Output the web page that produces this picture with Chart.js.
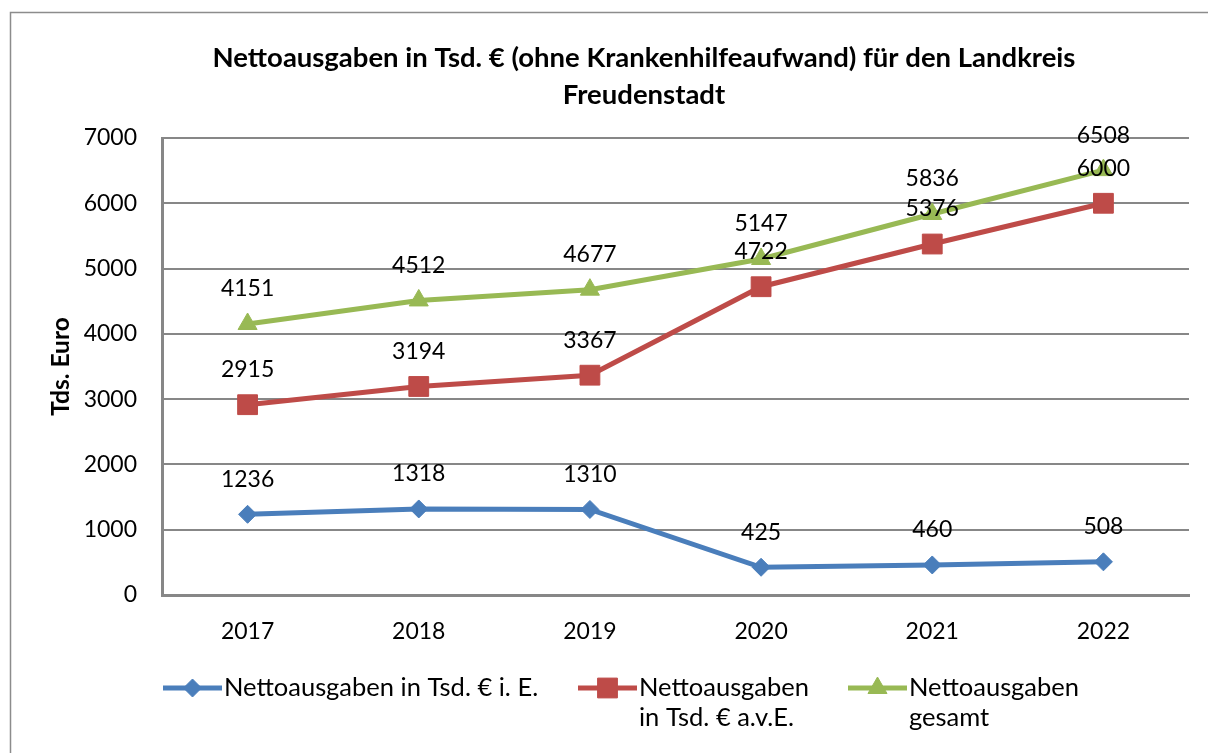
<!DOCTYPE html>
<html>
<head>
<meta charset="utf-8">
<script src="https://cdn.jsdelivr.net/npm/chart.js@4/dist/chart.umd.min.js"></script>
<style>
  html, body { margin: 0; padding: 0; background: #fff; }
  #wrap { width: 1208px; height: 753px; }
</style>
</head>
<body>
<div id="wrap"><canvas id="nettoChart" width="1208" height="753"></canvas></div>
<script>
// Daten
const jahre = ['2017', '2018', '2019', '2020', '2021', '2022'];
const nettoIE = [1236, 1318, 1310, 425, 460, 508];
const nettoAvE = [2915, 3194, 3367, 4722, 5376, 6000];
const nettoGesamt = [4151, 4512, 4677, 5147, 5836, 6508];
const yTicks = [0, 1000, 2000, 3000, 4000, 5000, 6000, 7000];
const legendeTexte = [
    ['Nettoausgaben in Tsd. € i. E.'],
    ['Nettoausgaben', 'in Tsd. € a.v.E.'],
    ['Nettoausgaben', 'gesamt']
];
const titelZeilen = ['Nettoausgaben in Tsd. € (ohne Krankenhilfeaufwand) für den Landkreis', 'Freudenstadt'];

const FONT = 'Lato, "Liberation Sans", sans-serif';
const GRAU = '#878787';

// Rahmen, Titel, Werte und Legende werden selbst gezeichnet
const dekoPlugin = {
    id: 'deko',
    beforeDraw(chart) {
        const ctx = chart.ctx;
        ctx.save();
        ctx.strokeStyle = '#8c8c8c';
        ctx.lineWidth = 1.5;
        ctx.beginPath();
        ctx.moveTo(10.5, chart.height);
        ctx.lineTo(10.5, 12.5);
        ctx.lineTo(chart.width, 12.5);
        ctx.stroke();

        ctx.fillStyle = '#000';
        ctx.font = 'bold 27.5px ' + FONT;
        ctx.textAlign = 'center';
        ctx.textBaseline = 'middle';
        titelZeilen.forEach((z, i) => ctx.fillText(z, 644, 58 + i * 37));
        ctx.restore();
    },
    afterDatasetsDraw(chart) {
        const ctx = chart.ctx;
        ctx.save();
        ctx.fillStyle = '#000';
        ctx.font = '23px ' + FONT;
        ctx.textAlign = 'center';
        ctx.textBaseline = 'middle';
        chart.data.datasets.forEach((ds, i) => {
            chart.getDatasetMeta(i).data.forEach((pt, j) => {
                ctx.fillText(String(ds.data[j]), pt.x, pt.y - 35);
            });
        });

        // Legende
        const startX = [163, 578, 848];
        const yLeg = 688;
        ctx.font = '25.5px ' + FONT;
        chart.data.datasets.forEach((ds, i) => {
            const x0 = startX[i];
            ctx.strokeStyle = ds.borderColor;
            ctx.lineWidth = ds.borderWidth;
            ctx.beginPath();
            ctx.moveTo(x0, yLeg);
            ctx.lineTo(x0 + 59, yLeg);
            ctx.stroke();
            ctx.fillStyle = ds.borderColor;
            ctx.lineWidth = 1;
            Chart.helpers.drawPoint(ctx, {
                pointStyle: ds.pointStyle,
                radius: ds.pointRadius,
                rotation: 0,
                borderWidth: 1
            }, x0 + 29.5, yLeg);
            ctx.fillStyle = '#000';
            ctx.textAlign = 'left';
            legendeTexte[i].forEach((zeile, k) => ctx.fillText(zeile, x0 + 61, yLeg + k * 30));
        });
        ctx.restore();
    }
};

const ctx = document.getElementById('nettoChart').getContext('2d');
new Chart(ctx, {
    type: 'line',
    data: {
        labels: jahre,
        datasets: [
            {
                label: legendeTexte[0].join(' '),
                data: nettoIE,
                borderColor: '#4A7EBB',
                backgroundColor: '#4A7EBB',
                borderWidth: 5,
                pointStyle: 'rectRot',
                pointRadius: 9,
                pointBorderWidth: 1
            },
            {
                label: legendeTexte[1].join(' '),
                data: nettoAvE,
                borderColor: '#BE4B48',
                backgroundColor: '#BE4B48',
                borderWidth: 5,
                pointStyle: 'rect',
                pointRadius: 14,
                pointBorderWidth: 1
            },
            {
                label: legendeTexte[2].join(' '),
                data: nettoGesamt,
                borderColor: '#98B954',
                backgroundColor: '#98B954',
                borderWidth: 5,
                pointStyle: 'triangle',
                pointRadius: 11,
                pointBorderWidth: 1
            }
        ]
    },
    options: {
        responsive: false,
        animation: false,
        layout: {padding: {left: 0, right: 19, top: 138, bottom: 98}},
        plugins: {
            legend: {display: false},
            title: {display: false},
            tooltip: {enabled: false}
        },
        scales: {
            x: {
                offset: true,
                grid: {display: false},
                border: {display: true, color: GRAU, width: 3},
                ticks: {color: '#000', font: {family: FONT, size: 23}, padding: 15},
                afterFit: s => { s.height = 60; }
            },
            y: {
                min: 0,
                max: 7000,
                afterBuildTicks: s => { s.ticks = yTicks.map(v => ({value: v})); },
                grid: {color: GRAU, lineWidth: 2, drawTicks: false},
                border: {display: true, color: GRAU, width: 3},
                ticks: {
                    color: '#000',
                    font: {family: FONT, size: 23},
                    padding: 25,
                    callback: v => String(v)
                },
                title: {
                    display: true,
                    text: 'Tds. Euro',
                    color: '#000',
                    font: {family: FONT, size: 24.5, weight: 'bold'},
                    padding: {top: 46, bottom: 0}
                },
                afterFit: s => { s.width = 162; }
            }
        }
    },
    plugins: [dekoPlugin]
});
</script>
</body>
</html>
